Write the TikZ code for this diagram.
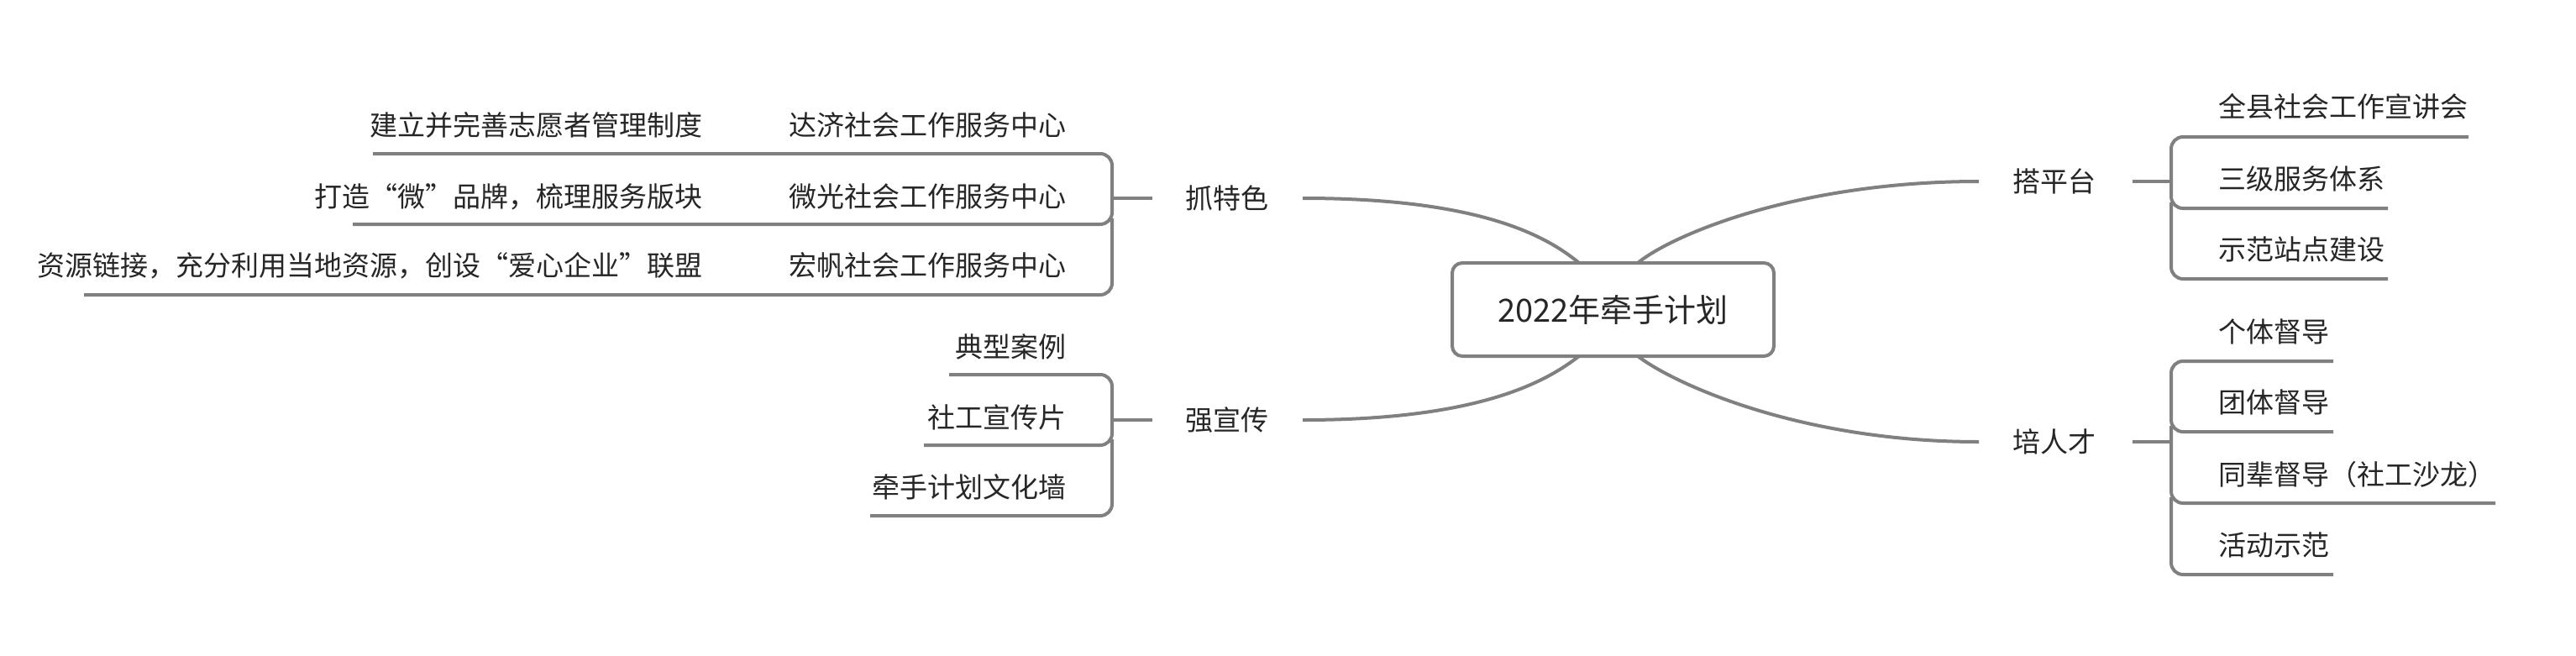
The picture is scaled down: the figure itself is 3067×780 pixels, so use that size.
\documentclass[tikz,border=0pt]{standalone}
\usepackage{fontspec}
\setmainfont{Noto Sans CJK SC}
\begin{document}
\begin{tikzpicture}[x=1pt,y=-1pt,
  ln/.style={draw=black!50,line width=4pt,rounded corners=14pt},
  cv/.style={draw=black!50,line width=4pt},
  lbl/.style={inner sep=0pt,font=\fontsize{33}{36}\selectfont,text=black!85},
  big/.style={inner sep=0pt,font=\fontsize{38}{42}\selectfont,text=black!85}]
\useasboundingbox (0,0) rectangle (3067,780);
% center
\node[draw=black!50,line width=4pt,rounded corners=12pt,minimum width=383pt,minimum height=111pt] (c) at (1920.5,368.5) {};
\node[big] (ct) at (c) {2022年牵手计划};
\coordinate (cTL) at (1880,313); \coordinate (cTR) at (1950,313);
\coordinate (cBL) at (1880,424); \coordinate (cBR) at (1950,424);
% level 1
\node[lbl,anchor=center] (zt) at (1461,236) {抓特色};
\node[lbl] (qx) at (1461,500) {强宣传};
\node[lbl] (dp) at (2446,216) {搭平台};
\node[lbl] (pr) at (2446,526) {培人才};
\coordinate (ztR) at (1551,236); \coordinate (qxR) at (1551,500);
\coordinate (dpL) at (2356,216); \coordinate (prL) at (2356,526);
\draw[cv] (ztR) .. controls (1760,236) and (1840,280) .. (cTL);
\draw[cv] (qxR) .. controls (1760,500) and (1840,455) .. (cBL);
\draw[cv] (dpL) .. controls (2140,216) and (1990,280) .. (cTR);
\draw[cv] (prL) .. controls (2140,526) and (1990,455) .. (cBR);
% left group 1
\coordinate (zs1) at (1326,236); \coordinate (zs2) at (1372,236);
\draw[cv] (zs1) -- (zs2);
\node[lbl,anchor=east] (a1) at (1270,149) {达济社会工作服务中心};
\node[lbl,anchor=east] (a2) at (1270,234) {微光社会工作服务中心};
\node[lbl,anchor=east] (a3) at (1270,316) {宏帆社会工作服务中心};
\node[lbl,anchor=east] (b1) at (837,149) {建立并完善志愿者管理制度};
\node[lbl,anchor=east] (b2) at (837,234) {打造“微”品牌，梳理服务版块};
\node[lbl,anchor=east] (b3) at (837,316) {资源链接，充分利用当地资源，创设“爱心企业”联盟};
\coordinate (u1) at (444,183); \coordinate (u2) at (420,267); \coordinate (u3) at (100,351);
\draw[ln] (u1) -- (1324,183) -- (1324,267) -- (u2);
\draw[ln] (1324,260) -- (1324,351) -- (u3);
% left group 2
\draw[cv] (1326,500) -- (1372,500);
\node[lbl,anchor=east] (d1) at (1270,413) {典型案例};
\node[lbl,anchor=east] (d2) at (1270,497) {社工宣传片};
\node[lbl,anchor=east] (d3) at (1270,580) {牵手计划文化墙};
\coordinate (v1) at (1130,446); \coordinate (v2) at (1100,530); \coordinate (v3) at (1036,614);
\draw[ln] (v1) -- (1324,446) -- (1324,530) -- (v2);
\draw[ln] (1324,523) -- (1324,614) -- (v3);
% right group 1
\draw[cv] (2539,216) -- (2586,216);
\node[lbl,anchor=west] (e1) at (2641,127) {全县社会工作宣讲会};
\node[lbl,anchor=west] (e2) at (2641,213) {三级服务体系};
\node[lbl,anchor=west] (e3) at (2641,297) {示范站点建设};
\coordinate (w1) at (2939,163); \coordinate (w2) at (2843,248); \coordinate (w3) at (2843,332);
\draw[ln] (w1) -- (2585,163) -- (2585,248) -- (w2);
\draw[ln] (2585,241) -- (2585,332) -- (w3);
% right group 2
\draw[cv] (2539,526) -- (2586,526);
\node[lbl,anchor=west] (f1) at (2641,395) {个体督导};
\node[lbl,anchor=west] (f2) at (2641,479) {团体督导};
\node[lbl,anchor=west] (f3) at (2641,565) {同辈督导（社工沙龙）};
\node[lbl,anchor=west] (f4) at (2641,649) {活动示范};
\coordinate (x1) at (2778,430); \coordinate (x2) at (2778,514); \coordinate (x3) at (2971,599); \coordinate (x4) at (2778,684);
\draw[ln] (x1) -- (2585,430) -- (2585,514) -- (x2);
\draw[ln] (2585,507) -- (2585,599) -- (x3);
\draw[ln] (2585,592) -- (2585,684) -- (x4);
\end{tikzpicture}
\end{document}
